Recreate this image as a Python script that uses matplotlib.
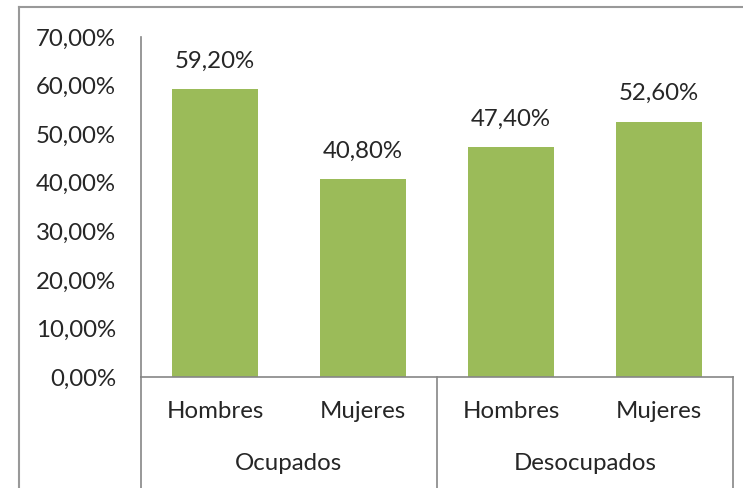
import matplotlib
matplotlib.use("Agg")
import matplotlib.pyplot as plt
from matplotlib.lines import Line2D
from matplotlib.ticker import FuncFormatter

categories = ["Hombres", "Mujeres", "Hombres", "Mujeres"]
groups = ["Ocupados", "Desocupados"]
values = [59.2, 40.8, 47.4, 52.6]
yticks = [0, 10, 20, 30, 40, 50, 60, 70]

W, H = 743, 488
plt.rcParams['font.family'] = ['Lato', 'DejaVu Sans']
fig = plt.figure(figsize=(W/100, H/100), dpi=100)

L, R, T, B = 141, 733, 37, 377
ax = fig.add_axes([L/W, 1 - B/H, (R-L)/W, (B-T)/H])

txt = '#262626'
grid = '#868686'
green = '#9BBB59'
fs = 17.3

x = list(range(len(values)))
ax.bar(x, values, width=0.575, color=green)
ax.set_xlim(-0.5, len(values) - 0.5)
ax.set_ylim(0, 70)
ax.set_yticks(yticks)
ax.yaxis.set_major_formatter(FuncFormatter(lambda v, p: f"{v:.2f}".replace('.', ',') + '%'))
ax.tick_params(axis='y', length=0, pad=18, labelsize=fs, labelcolor=txt)
ax.set_xticks([])
for s in ['top', 'right']:
    ax.spines[s].set_visible(False)
for s in ['left', 'bottom']:
    ax.spines[s].set_color(grid)
    ax.spines[s].set_linewidth(1.2)

for xi, v in zip(x, values):
    ax.annotate(f"{v:.2f}".replace('.', ',') + '%', (xi, v), xytext=(0, 20),
                textcoords='offset points', ha='center', va='center',
                fontsize=fs, color=txt)

ph = B - T
def ay(py):
    return (B - py) / ph

for xi, c in zip(x, categories):
    ax.text(xi, ay(412), c, transform=ax.get_xaxis_transform(), ha='center', va='center',
            fontsize=fs, color=txt)
n_per = len(categories) // len(groups)
for gi, g in enumerate(groups):
    cx = gi * n_per + (n_per - 1) / 2
    ax.text(cx, ay(463), g, transform=ax.get_xaxis_transform(), ha='center', va='center',
            fontsize=fs, color=txt)
for gi in range(len(groups) + 1):
    bx = gi * n_per - 0.5
    ax.add_line(Line2D([bx, bx], [0, ay(490)], transform=ax.get_xaxis_transform(),
                       color=grid, lw=1.2, clip_on=False))

# chart border
fig.add_artist(Line2D([19/W, 1.0], [1 - 7/H, 1 - 7/H], transform=fig.transFigure, color='#999999', lw=1.5))
fig.add_artist(Line2D([19/W, 19/W], [0, 1 - 7/H], transform=fig.transFigure, color='#999999', lw=1.5))

fig.savefig('out.png', dpi=100)
